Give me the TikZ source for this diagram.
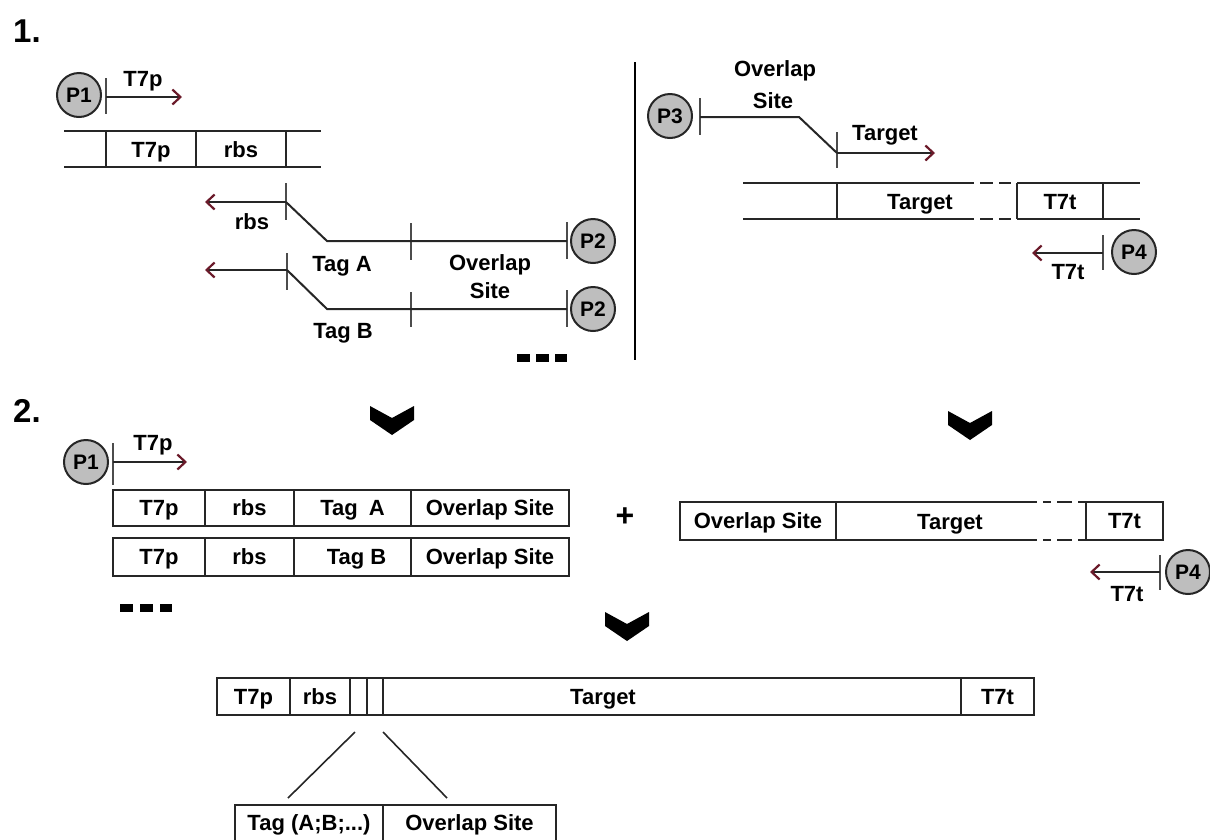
\documentclass[tikz,border=0pt]{standalone}
\usepackage{fontspec}
\setmainfont{Liberation Sans}
\usetikzlibrary{arrows.meta}
\definecolor{tipred}{HTML}{6B1A2A}
\definecolor{pgray}{HTML}{BEBEBE}
\begin{document}
\begin{tikzpicture}[x=1pt,y=-1pt,
  lbl/.style={font=\bfseries\fontsize{22}{24}\selectfont, inner sep=0pt, text height=15.5pt, text depth=0pt},
  big/.style={font=\bfseries\fontsize{33}{34}\selectfont, inner sep=0pt},
  pcirc/.style={circle, draw=black!85, line width=2pt, fill=pgray, minimum size=44pt, inner sep=0pt, font=\bfseries\fontsize{21}{22}\selectfont},
  strand/.style={line width=2pt, draw=black!85},
  tick/.style={line width=2pt, draw=black!70},
  arr/.style={line width=2pt, draw=black!85, -{Straight Barb[length=8pt,width=15pt,line width=2.2pt,color=tipred]}},
  seg/.style={draw=black!85, line width=2pt, rectangle, inner sep=0pt, font=\bfseries\fontsize{22}{24}\selectfont, text height=15.5pt, text depth=0pt},
  chev/.style={fill=black},
  dotsq/.style={fill=black},
  sep/.style={line width=2.8pt, draw=black}
]
\useasboundingbox (0,0) rectangle (1210,839);

% ---------- 1. ----------
\node[big] (n1) at (27,31) {1.};

% P1 with T7p primer
\node[pcirc] (p1) at (79,95) {P1};
\coordinate (p1s) at (106,97);
\coordinate (p1e) at (182,97);
\draw[tick] (106,78) -- (106,114);
\draw[arr] (p1s) -- (p1e);
\node[lbl] (lp1) at (143,79) {T7p};

% vector strand left
\draw[strand] (64,131) -- (321,131);
\draw[strand] (64,167) -- (321,167);
\draw[strand] (106,131) -- (106,167);
\draw[strand] (196,131) -- (196,167);
\draw[strand] (286,131) -- (286,167);
\node[lbl] (s1a) at (151,150) {T7p};
\node[lbl] (s1b) at (241,150) {rbs};

% primer A
\coordinate (a0) at (286,202);
\coordinate (aL) at (205,202);
\coordinate (a1) at (327,241);
\coordinate (a2) at (567,241);
\draw[tick] (286,183) -- (286,220);
\draw[tick] (411,223) -- (411,260);
\draw[tick] (567,222) -- (567,259);
\draw[strand] (a2) -- (a1) -- (a0);
\draw[arr] (a0) -- (aL);
\node[pcirc] (p2a) at (593,241) {P2};
\node[lbl] (lrbs) at (252,222) {rbs};
\node[lbl] (ltaga) at (342,264) {Tag A};
\node[lbl] (lov1) at (490,263) {Overlap};
\node[lbl] (lsi1) at (490,291) {Site};

% primer B
\coordinate (b0) at (287,270);
\coordinate (bL) at (205,270);
\coordinate (b1) at (327,309);
\coordinate (b2) at (567,309);
\draw[tick] (287,253) -- (287,290);
\draw[tick] (411,292) -- (411,327);
\draw[tick] (567,290) -- (567,327);
\draw[strand] (b2) -- (b1) -- (b0);
\draw[arr] (b0) -- (bL);
\node[pcirc] (p2b) at (593,309) {P2};
\node[lbl] (ltagb) at (343,331) {Tag B};

% dots
\fill[dotsq] (517,354) rectangle (530,362);
\fill[dotsq] (536,354) rectangle (549,362);
\fill[dotsq] (555,354) rectangle (567,362);

% separator
\draw[sep] (635,62) -- (635,360);

% right: P3 primer
\node[pcirc] (p3) at (670,116) {P3};
\coordinate (c0) at (700,117);
\coordinate (c1) at (799,117);
\coordinate (c2) at (837,153);
\coordinate (c3) at (935,153);
\draw[tick] (700,98) -- (700,135);
\draw[tick] (837,132) -- (837,168);
\draw[strand] (c0) -- (c1) -- (c2);
\draw[arr] (c2) -- (c3);
\node[lbl] (lov3) at (775,69) {Overlap};
\node[lbl] (lsi3) at (773,101) {Site};
\node[lbl] (ltg3) at (885,133) {Target};

% right strand
\draw[strand] (743,183) -- (974,183);
\draw[strand] (743,219) -- (974,219);
\draw[strand] (980,183) -- (993,183);
\draw[strand] (999,183) -- (1011,183);
\draw[strand] (980,219) -- (993,219);
\draw[strand] (999,219) -- (1011,219);
\draw[strand] (1017,183) -- (1140,183);
\draw[strand] (1017,219) -- (1140,219);
\draw[strand] (837,183) -- (837,219);
\draw[strand] (1017,183) -- (1017,219);
\draw[strand] (1103,183) -- (1103,219);
\node[lbl] (st1) at (920,202) {Target};
\node[lbl] (st2) at (1060,202) {T7t};

% P4 primer
\coordinate (d0) at (1103,253);
\coordinate (d1) at (1032,253);
\draw[tick] (1103,235) -- (1103,270);
\draw[arr] (d0) -- (d1);
\node[pcirc] (p4) at (1134,252) {P4};
\node[lbl] (lt7t) at (1068,272) {T7t};

% ---------- 2. ----------
\node[big] (n2) at (27,411) {2.};

% chevrons
\fill[chev] (370,406) -- (392,418) -- (414,406) -- (414,420) -- (392,435) -- (370,420) -- cycle;
\fill[chev] (948,411) -- (970,423) -- (992,411) -- (992,425) -- (970,440) -- (948,425) -- cycle;
\fill[chev] (605,612) -- (627,624) -- (649,612) -- (649,626) -- (627,641) -- (605,626) -- cycle;

% P1 second
\node[pcirc] (p1b) at (86,462) {P1};
\coordinate (q0) at (113,462);
\coordinate (q1) at (187,462);
\draw[tick] (113,443) -- (113,485);
\draw[arr] (q0) -- (q1);
\node[lbl] (lq) at (153,443) {T7p};

% box A
\node[seg, minimum width=92pt, minimum height=36pt] (ba1) at (159,508) {T7p};
\node[seg, minimum width=89pt, minimum height=36pt] (ba2) at (249.5,508) {rbs};
\node[seg, minimum width=117pt, minimum height=36pt] (ba3) at (352.5,508) {Tag\hspace{0.5em}A};
\node[seg, minimum width=158pt, minimum height=36pt] (ba4) at (490,508) {Overlap Site};
% box B
\node[seg, minimum width=92pt, minimum height=38pt] (bb1) at (159,557) {T7p};
\node[seg, minimum width=89pt, minimum height=38pt] (bb2) at (249.5,557) {rbs};
\node[seg, minimum width=117pt, minimum height=38pt] (bb3) at (352.5,557) {\hspace{8pt}Tag B};
\node[seg, minimum width=158pt, minimum height=38pt] (bb4) at (490,557) {Overlap Site};

% dots
\fill[dotsq] (120,604) rectangle (133,612);
\fill[dotsq] (140,604) rectangle (153,612);
\fill[dotsq] (160,604) rectangle (172,612);

% plus
\node[font=\bfseries\fontsize{32}{32}\selectfont, inner sep=0pt] (plus) at (625,517) {+};

% right box
\node[seg, minimum width=156pt, minimum height=38pt] (rb1) at (758,521) {Overlap Site};
\draw[strand] (836,502) -- (1037,502);
\draw[strand] (836,540) -- (1037,540);
\draw[strand] (1043,502) -- (1051,502);
\draw[strand] (1057,502) -- (1072,502);
\draw[strand] (1043,540) -- (1051,540);
\draw[strand] (1057,540) -- (1072,540);
\node[lbl] (rb2) at (950,522) {Target};
\node[seg, minimum width=77pt, minimum height=38pt] (rb3) at (1124.5,521) {T7t};
\draw[strand] (1078,502) -- (1086,502);
\draw[strand] (1078,540) -- (1086,540);

% P4 second
\coordinate (e0) at (1160,572);
\coordinate (e1) at (1090,572);
\draw[tick] (1160,555) -- (1160,590);
\draw[arr] (e0) -- (e1);
\node[pcirc] (p4b) at (1188,572) {P4};
\node[lbl] (le) at (1127,594) {T7t};

% final construct
\node[seg, minimum width=73pt, minimum height=37pt] (f1) at (253.5,696.5) {T7p};
\node[seg, minimum width=60pt, minimum height=37pt] (f2) at (320,696.5) {rbs};
\node[seg, minimum width=17pt, minimum height=37pt] (f3) at (358.5,696.5) {};
\node[seg, minimum width=16pt, minimum height=37pt] (f4) at (375,696.5) {};
\node[seg, minimum width=578pt, minimum height=37pt] (f5) at (672,696.5) {};
\node[lbl] (f5t) at (603,697) {Target};
\node[seg, minimum width=73pt, minimum height=37pt] (f6) at (997.5,696.5) {T7t};

% zoom lines
\coordinate (z1) at (355,732);
\coordinate (z2) at (288,798);
\coordinate (z3) at (383,732);
\coordinate (z4) at (447,798);
\draw[line width=1.6pt, draw=black!85] (z1) -- (z2);
\draw[line width=1.6pt, draw=black!85] (z3) -- (z4);

% detail box
\node[seg, minimum width=148pt, minimum height=36pt] (g1) at (309,823) {Tag (A;B;...)};
\node[seg, minimum width=173pt, minimum height=36pt] (g2) at (469.5,823) {Overlap Site};
\end{tikzpicture}
\end{document}
